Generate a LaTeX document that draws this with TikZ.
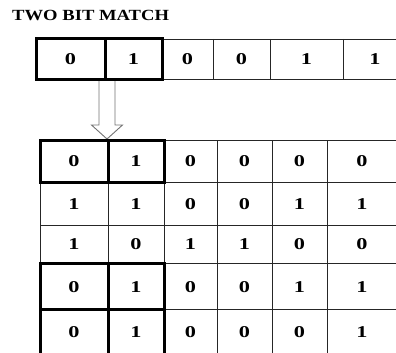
\documentclass[tikz,border=0pt]{standalone}
\usepackage{fontspec}
\setmainfont{Liberation Serif}
\usetikzlibrary{calc}

\begin{document}
\begin{tikzpicture}[x=1pt, y=-1pt,
  bit/.style={font=\bfseries\fontsize{16.5}{16.5}\selectfont, inner sep=0pt, xscale=1.35},
  heading/.style={font=\bfseries\fontsize{15.5}{15.5}\selectfont, inner sep=0pt, xscale=1.2},
  thingrid/.style={line width=0.8pt, draw=black!85},
  thickbox/.style={line width=3pt, draw=black, line cap=rect},
  hollow/.style={draw=black!55, fill=white, line width=0.9pt, line join=miter},
]
\useasboundingbox (0,0) rectangle (396,353);
\clip (0,0) rectangle (396,353);

% title
\node[heading, anchor=base west] (title) at (12,21) {TWO BIT MATCH};

% hollow arrow between the two tables
\coordinate (arrtop) at (107,79);
\coordinate (arrtip) at (107,139);
\draw[hollow] ($(arrtop)+(-8,0)$) -- ($(arrtop)+(-8,46)$) -- ($(arrtop)+(-15.5,46)$)
  -- (arrtip) -- ($(arrtop)+(15.5,46)$) -- ($(arrtop)+(8,46)$) -- ($(arrtop)+(8,0)$);

% top pattern row
\draw[thingrid] (162,39) -- (410,39) (162,79) -- (410,79);
\foreach \x in {213,270,343}
  \draw[thingrid] (\x,39) -- (\x,79);
\draw[thickbox] (36,39) rectangle (162,79) (105,39) -- (105,79);
\foreach \x/\b [count=\i] in {70.5/0,133.5/1,187.5/0,241.5/0,306.5/1,375/1}
  \node[bit] (t\i) at (\x,59) {\b};

% lower table
\foreach \y in {140,182,225,263,309}
  \draw[thingrid] (40,\y) -- (400,\y);
\foreach \x in {40,108,164,217,272,327}
  \draw[thingrid] (\x,140) -- (\x,360);
\draw[thickbox] (40,140) rectangle (164,182) (108,140) -- (108,182);
\draw[thickbox] (40,263) rectangle (164,362) (40,309) -- (164,309) (108,263) -- (108,362);

\foreach \row/\y in {{0,1,0,0,0,0}/161,{1,1,0,0,1,1}/204,{1,0,1,1,0,0}/244,
                     {0,1,0,0,1,1}/287,{0,1,0,0,0,1}/332}{
  \foreach \b [count=\c] in \row {
    \pgfmathsetmacro\cx{{74,136,190.5,244.5,299.5,362}[\c-1]}
    \node[bit] (b\y-\c) at (\cx,\y) {\b};
  }
}
\end{tikzpicture}
\end{document}
